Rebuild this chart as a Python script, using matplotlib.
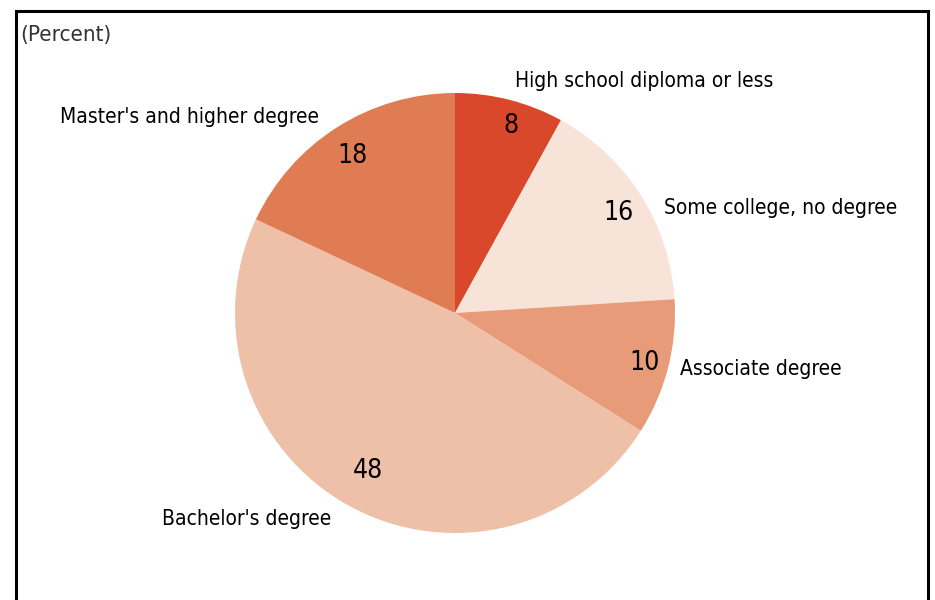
import matplotlib
matplotlib.use('Agg')
import matplotlib.pyplot as plt
from matplotlib.patches import Rectangle

# Share of workers by education level (percent)
categories = ['High school diploma or less', 'Some college, no degree',
              'Associate degree', "Bachelor's degree", "Master's and higher degree"]
values = [8, 16, 10, 48, 18]
colors = ['#D9482A', '#F8E3D9', '#E89B79', '#EEC0A7', '#E07C54']

# small nudges of the category labels, in pixels (x right, y up)
label_nudge = [(1, 4), (10, -21), (-3, 3), (-10, 0), (-10, -3)]
pct_nudge = [(8, 2), (2, -3), (4, -2), (5, 10), (0, -5)]

plt.rcParams['font.family'] = ['DejaVu Sans']
plt.rcParams['font.stretch'] = 'condensed'

fig = plt.figure(figsize=(9.35, 6), dpi=100)

# frame around the chart (bottom runs off the image)
fig.patches.append(Rectangle((16 / 935, -0.05), 912 / 935, 1.05 - 11 / 600,
                             transform=fig.transFigure, fill=False,
                             edgecolor='black', linewidth=2.2))

fig.text(20 / 935, 1 - 35 / 600, '(Percent)', fontsize=16, color='#333333',
         va='center', ha='left')

ax = fig.add_axes([235 / 935, 67 / 600, 440 / 935, 440 / 600])
wedges, texts, autotexts = ax.pie(values, labels=categories, colors=colors,
                                  startangle=90, counterclock=False,
                                  autopct='%d', pctdistance=0.87,
                                  labeldistance=1.07,
                                  textprops={'fontsize': 15, 'color': 'black'},
                                  wedgeprops={'linewidth': 0})
px = 1 / 220  # axes radius is 220 px
for t, (dx, dy) in zip(texts, label_nudge):
    x, y = t.get_position()
    t.set_position((x + dx * px, y + dy * px))
for t, (dx, dy) in zip(autotexts, pct_nudge):
    x, y = t.get_position()
    t.set_position((x + dx * px, y + dy * px))
    t.set_fontsize(19)
ax.set_xlim(-1, 1)
ax.set_ylim(-1, 1)
ax.set_aspect('equal')

fig.savefig('out.png', dpi=100)
